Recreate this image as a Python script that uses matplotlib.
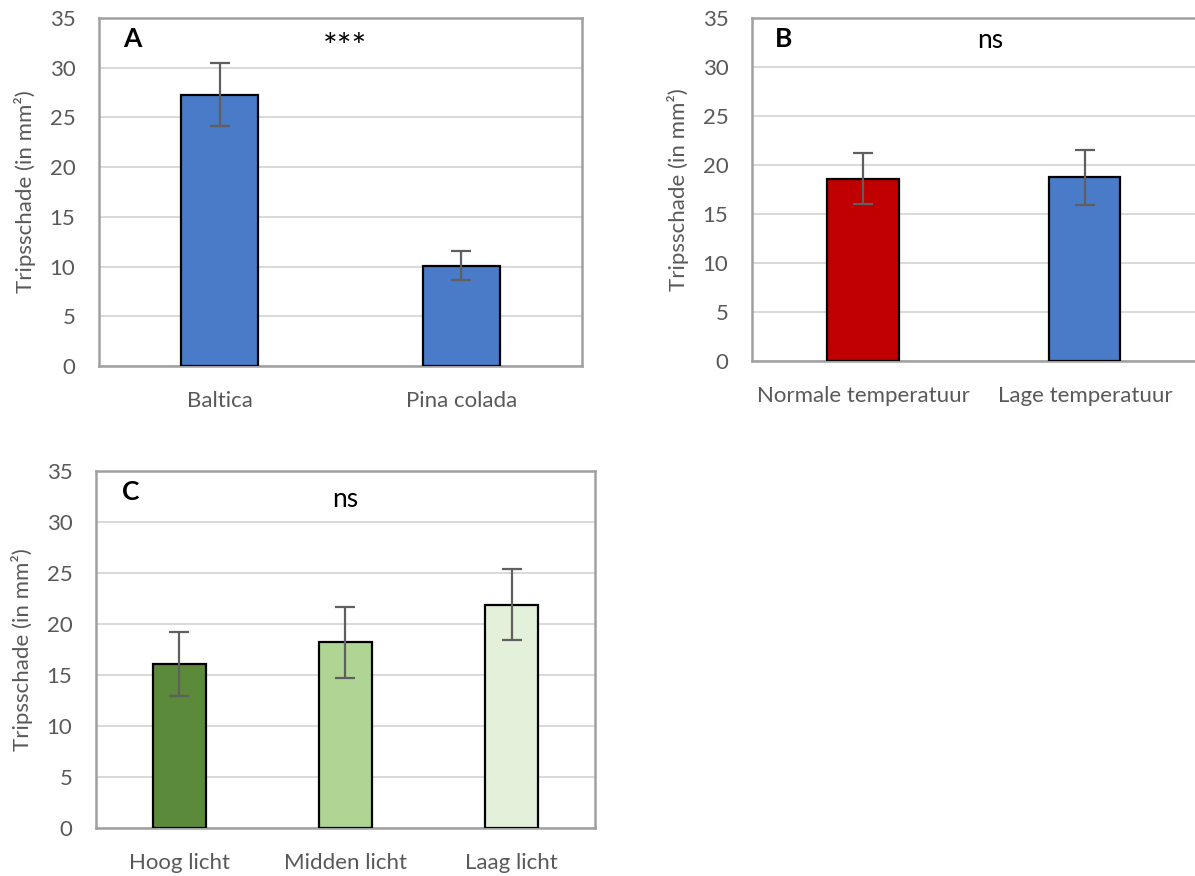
import matplotlib
matplotlib.use("Agg")
import matplotlib.pyplot as plt

plt.rcParams["font.family"] = ["Lato", "DejaVu Sans"]

# A: cultivar
cultivars = ["Baltica", "Pina colada"]
cultivar_mean = [27.3, 10.1]
cultivar_err = [3.2, 1.45]

# B: temperature
temps = ["Normale temperatuur", "Lage temperatuur"]
temp_mean = [18.6, 18.75]
temp_err = [2.6, 2.8]

# C: light
lights = ["Hoog licht", "Midden licht", "Laag licht"]
light_mean = [16.05, 18.2, 21.9]
light_err = [3.15, 3.45, 3.45]

BLUE = "#4a7bc9"
RED = "#c00000"
GREENS = ["#5b8a3b", "#afd494", "#e3f0da"]

TICK_GREY = "#595959"
FRAME_GREY = "#a0a0a0"
GRID_GREY = "#d9d9d9"


def panel(ax, labels, means, errs, colors, letter):
    x = range(len(labels))
    ax.bar(x, means, width=0.32, color=colors, edgecolor="black", linewidth=1.6,
           yerr=errs, zorder=3,
           error_kw=dict(ecolor="#5f5f5f", elinewidth=1.6, capsize=7, capthick=1.6))
    ax.set_xlim(-0.5, len(labels) - 0.5)
    ax.set_ylim(0, 35)
    ax.set_yticks(range(0, 36, 5))
    ax.set_xticks(list(x))
    ax.set_xticklabels(labels)
    ax.yaxis.grid(True, color=GRID_GREY, linewidth=1.4, zorder=0)
    ax.set_axisbelow(True)
    for s in ax.spines.values():
        s.set_color(FRAME_GREY)
        s.set_linewidth(1.8)
    ax.tick_params(length=0, labelsize=16, labelcolor=TICK_GREY)
    ax.tick_params(axis="x", pad=18)
    ax.tick_params(axis="y", pad=17)
    ax.set_ylabel("Tripsschade (in mm²)", fontsize=16, color=TICK_GREY, labelpad=10)
    ax.text(0.07, 0.94, letter, transform=ax.transAxes, fontsize=19,
            fontweight="bold", ha="center", va="center")
    return ax


fig = plt.figure(figsize=(11.95, 8.76), dpi=100)

ax_a = fig.add_axes([0.0828, 0.5822, 0.4042, 0.3973])
panel(ax_a, cultivars, cultivar_mean, cultivar_err, [BLUE, BLUE], "A")
ax_a.text(0.51, 0.915, "***", transform=ax_a.transAxes, fontsize=25,
          ha="center", va="center")

ax_b = fig.add_axes([0.6293, 0.5879, 0.3715, 0.3916])
panel(ax_b, temps, temp_mean, temp_err, [RED, BLUE], "B")
ax_b.text(0.536, 0.935, "ns", transform=ax_b.transAxes, fontsize=19,
          ha="center", va="center")

ax_c = fig.add_axes([0.0803, 0.0548, 0.4176, 0.4075])
panel(ax_c, lights, light_mean, light_err, GREENS, "C")
ax_c.text(0.5, 0.92, "ns", transform=ax_c.transAxes, fontsize=19,
          ha="center", va="center")

fig.savefig("out.png", dpi=100)
